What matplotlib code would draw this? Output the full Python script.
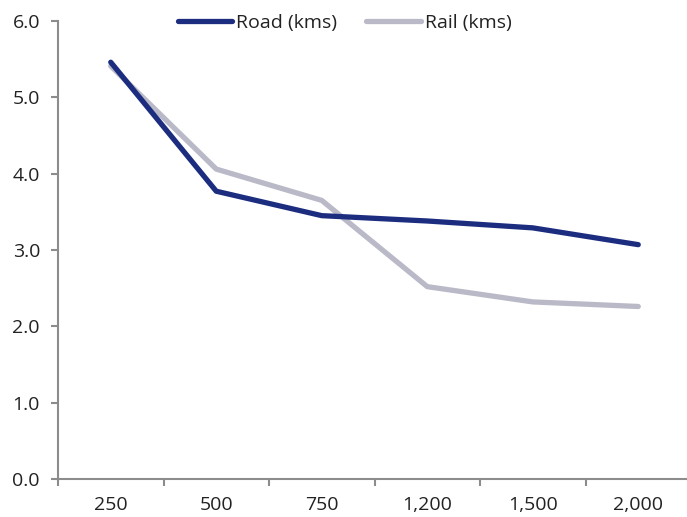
import matplotlib
matplotlib.use('Agg')
import matplotlib.pyplot as plt
from matplotlib.ticker import FixedLocator

distances = ['250', '500', '750', '1,200', '1,500', '2,000']
road_kms = [5.46, 3.77, 3.45, 3.38, 3.29, 3.07]
rail_kms = [5.41, 4.06, 3.65, 2.52, 2.32, 2.26]

ROAD_COLOR = '#1c2d80'
RAIL_COLOR = '#b9b9c8'
AXIS_COLOR = '#8c8c8c'
TEXT_COLOR = '#222222'

plt.rcParams['font.family'] = ['Open Sans', 'DejaVu Sans']

fig = plt.figure(figsize=(6.87, 5.17), dpi=100)
ax = fig.add_axes([58 / 687, 38 / 517, 633 / 687, 458 / 517])

x = list(range(len(distances)))
ax.plot(x, road_kms, color=ROAD_COLOR, lw=3.8, solid_capstyle='round', label='Road (kms)', zorder=3)
ax.plot(x, rail_kms, color=RAIL_COLOR, lw=3.8, solid_capstyle='round', label='Rail (kms)', zorder=2)

ax.set_xlim(-0.5, len(distances) - 0.5)
ax.set_ylim(0, 6)
ax.set_yticks([0, 1, 2, 3, 4, 5, 6])
ax.set_yticklabels([f'{v:.1f}' for v in range(7)])
ax.set_xticks(x)
ax.set_xticklabels(distances)
ax.xaxis.set_minor_locator(FixedLocator([i - 0.5 for i in range(len(distances) + 1)]))

for side in ('top', 'right'):
    ax.spines[side].set_visible(False)
for side in ('left', 'bottom'):
    ax.spines[side].set_color(AXIS_COLOR)
    ax.spines[side].set_linewidth(1.5)

ax.tick_params(axis='x', which='major', length=0, pad=12, labelsize=14, labelcolor=TEXT_COLOR)
ax.tick_params(axis='x', which='minor', length=5, width=1.5, color=AXIS_COLOR, direction='out')
ax.tick_params(axis='y', length=5, width=1.5, color=AXIS_COLOR, pad=8, labelsize=14, labelcolor=TEXT_COLOR)

leg = ax.legend(loc='upper center', bbox_to_anchor=(0.453, 1.053), ncol=2, frameon=False,
                fontsize=14, handlelength=2.8, handletextpad=0.2, columnspacing=1.5)
for t in leg.get_texts():
    t.set_color(TEXT_COLOR)

fig.savefig('out.png', dpi=100)
